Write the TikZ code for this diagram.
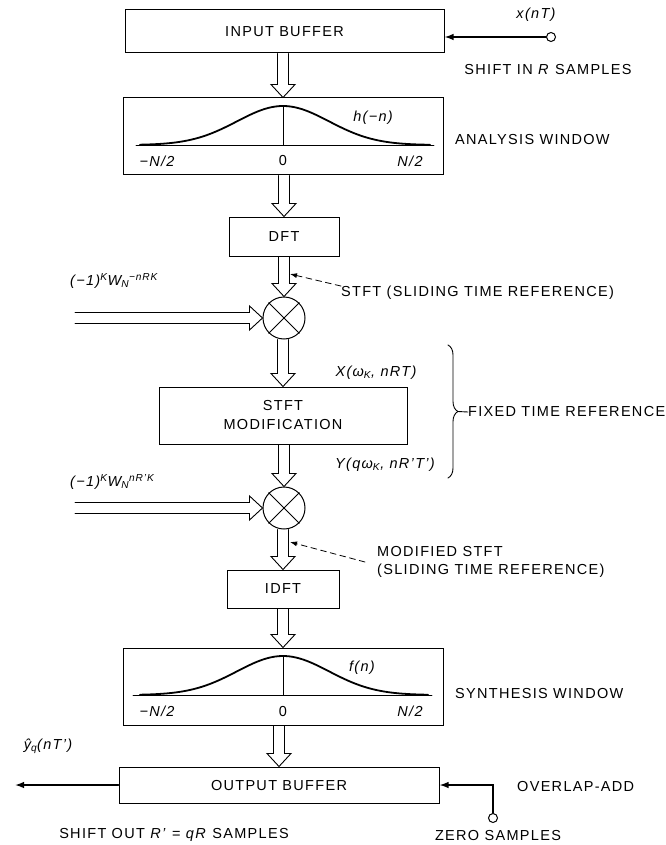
\documentclass[tikz,border=0pt]{standalone}
\usepackage{amsmath}
\usepackage{fontspec}
\setmainfont{Liberation Sans}[LetterSpace=9]
\usetikzlibrary{calc,arrows.meta,decorations.pathreplacing}

\newcommand{\vi}[1]{\text{\itshape #1}}

\tikzset{
  lbl/.style={inner sep=0pt,font=\fontsize{14.5}{18}\selectfont},
  blockbox/.style={lbl,draw,line width=1pt,align=center},
  mult/.style={circle,draw,line width=1pt,minimum size=42pt,inner sep=0pt},
  tap/.style={circle,draw,line width=1pt,minimum size=9pt,inner sep=0pt},
  sig/.style={line width=1.4pt,-{Latex[length=9pt,width=6.5pt]}},
  pointer/.style={line width=0.8pt,dash pattern=on 6pt off 4pt,-{Latex[length=7pt,width=5pt]}},
  % hollow (double line) arrow, going down
  hollowdown/.style={line width=0.9pt,line join=miter,to path={
    let \p1=(\tikztostart), \p2=(\tikztotarget) in
    (\x2-5.5pt,\y1) -- (\x2-5.5pt,\y2+13pt) -- (\x2-12pt,\y2+13pt) -- (\x2,\y2)
    -- (\x2+12pt,\y2+13pt) -- (\x2+5.5pt,\y2+13pt) -- (\x2+5.5pt,\y1)}},
  % hollow (double line) arrow, going right
  hollowright/.style={line width=0.9pt,line join=miter,to path={
    let \p1=(\tikztostart), \p2=(\tikztotarget) in
    (\x1,\y2+5.5pt) -- (\x2-13pt,\y2+5.5pt) -- (\x2-13pt,\y2+12pt) -- (\x2,\y2)
    -- (\x2-13pt,\y2-12pt) -- (\x2-13pt,\y2-5.5pt) -- (\x1,\y2-5.5pt)}},
}

\begin{document}
\begin{tikzpicture}[x=1pt,y=-1pt,line cap=round]
\useasboundingbox (0,0) rectangle (665,845);

% blocks
\node[blockbox,minimum width=319pt,minimum height=43pt] (inbuf) at (284.5,31.5) {INPUT BUFFER};
\node[blockbox,minimum width=320pt,minimum height=77pt] (anwin) at (283,136.5) {};
\node[blockbox,minimum width=110pt,minimum height=39pt] (dft) at (284,236.5) {DFT};
\node[mult] (m1) at (284,318) {};
\node[blockbox,minimum width=248pt,minimum height=57pt] (mod) at (283,415.5) {STFT\\[1pt]MODIFICATION};
\node[mult] (m2) at (284,508) {};
\node[blockbox,minimum width=112pt,minimum height=38pt] (idft) at (283,589) {IDFT};
\node[blockbox,minimum width=320pt,minimum height=77pt] (synwin) at (283,686.5) {};
\node[blockbox,minimum width=320pt,minimum height=36pt] (outbuf) at (279,785) {OUTPUT BUFFER};

% multiplier crosses
\foreach \m in {m1,m2} {
  \draw[line width=0.9pt] (\m.north west) -- (\m.south east);
  \draw[line width=0.9pt] (\m.north east) -- (\m.south west);
}

% analysis window
\draw[line width=0.9pt] (136,145) -- (434,145);
\draw[line width=0.9pt] (283,106) -- (283,145);
\draw[line width=1.8pt] plot[domain=140:430,samples=80,smooth] (\x,{145-39*exp(-((\x-283)/46)^2/2)});
\node[lbl] (hn) at (373,118) {\itshape h(−n)};
\node[lbl] (an1) at (157,161) {\itshape −N/2};
\node[lbl] (an2) at (283,161) {0};
\node[lbl] (an3) at (410,161) {\itshape N/2};
\node[lbl,anchor=west] (anlbl) at (455,140) {ANALYSIS WINDOW};

% synthesis window
\draw[line width=0.9pt] (133,695) -- (432,695);
\draw[line width=0.9pt] (283,656) -- (283,695);
\draw[line width=1.8pt] plot[domain=140:428,samples=80,smooth] (\x,{695-39*exp(-((\x-283)/46)^2/2)});
\node[lbl] (fn) at (362,668) {\itshape f(n)};
\node[lbl] (sy1) at (157,711) {\itshape −N/2};
\node[lbl] (sy2) at (283,711) {0};
\node[lbl] (sy3) at (410,711) {\itshape N/2};
\node[lbl,anchor=west] (sylbl) at (455,693) {SYNTHESIS WINDOW};

% hollow arrows down the chain
\draw[hollowdown] (inbuf.south) to (anwin.north);
\draw[hollowdown] (anwin.south) to (dft.north);
\draw[hollowdown] (dft.south) to (m1.north);
\draw[hollowdown] (m1.south) to (mod.north);
\draw[hollowdown] (mod.south) to (m2.north);
\draw[hollowdown] (m2.south) to (idft.north);
\draw[hollowdown] (idft.south) to (synwin.north);
\draw[hollowdown] (synwin.south) to (outbuf.north);

% phase factors
\coordinate (ph1) at (75,318);
\coordinate (ph2) at (75,508);
\draw[hollowright] (ph1) to (m1.west);
\draw[hollowright] (ph2) to (m2.west);
\node[lbl,anchor=west] (ph1lbl) at (70,281) {\itshape (−1)$^{\vi{K}}$W$_{\vi{N}}{}^{\vi{−nRK}}$};
\node[lbl,anchor=west] (ph2lbl) at (70,482) {\itshape (−1)$^{\vi{K}}$W$_{\vi{N}}{}^{\vi{nR'K}}$};

% input
\node[tap] (xcirc) at (551,37) {};
\node[lbl] (xlbl) at (536,15) {\itshape x(nT)};
\node[lbl] (shin) at (548,70) {SHIFT IN \textit{R} SAMPLES};
\draw[sig] (xcirc.west) -- (xcirc -| inbuf.east);

% sliding / fixed time reference notes
\node[lbl,anchor=west] (stftlbl) at (341,293) {STFT (SLIDING TIME REFERENCE)};
\coordinate (p1) at (290,274);
\draw[pointer] (stftlbl.north west) -- (p1);
\node[lbl] (xlab) at (376,373) {\itshape X(ω$_{\vi{K}}$, nRT)};
\node[lbl] (ylab) at (385,465) {\itshape Y(qω$_{\vi{K}}$, nR'T')};
\draw[line width=0.9pt,decorate,decoration={brace,amplitude=10pt,aspect=0.5}] (448,345) -- (448,478);
\node[lbl,anchor=west] (fixlbl) at (468,412) {FIXED TIME REFERENCE};
\draw[line width=0.9pt] (458,411.5) -- (fixlbl.west);
\node[lbl,anchor=west,align=left] (modlbl) at (377,562) {MODIFIED STFT\\(SLIDING TIME REFERENCE)};
\coordinate (p2) at (290,542);
\draw[pointer] ([xshift=-12pt]modlbl.west) -- (p2);

% output
\coordinate (yout) at (15,785);
\draw[sig] (outbuf.west) -- (yout);
\node[lbl] (ylbl) at (48,746) {\itshape \^{y}$_{\vi{q}}$(nT')};
\node[lbl,anchor=west] (ovl) at (517,786) {OVERLAP-ADD};
\node[tap] (zcirc) at (493,818) {};
\draw[sig] (zcirc.north) |- (outbuf.east);
\node[lbl] (shout) at (174,835) {SHIFT OUT \textit{R'} = \textit{qR} SAMPLES};
\node[lbl] (zlbl) at (498,835) {ZERO SAMPLES};

\end{tikzpicture}
\end{document}
